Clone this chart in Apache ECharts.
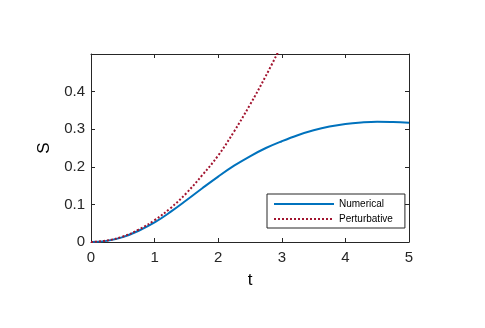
<!DOCTYPE html>
<html>
<head>
<meta charset="utf-8">
<script src="https://cdn.jsdelivr.net/npm/echarts@6/dist/echarts.min.js"></script>
<style>
  html, body { margin: 0; padding: 0; background: #fff; }
  #chart { width: 485px; height: 328px; }
</style>
</head>
<body>
<div id="chart"></div>
<script>
// values
var tNum = [0, 0.25, 0.5, 0.75, 1, 1.25, 1.5, 1.75, 2, 2.25, 2.5, 2.75, 3, 3.25, 3.5, 3.75, 4, 4.25, 4.5, 4.75, 5];
var sNum = [0, 0.003, 0.013, 0.03, 0.052, 0.080, 0.111, 0.143, 0.174, 0.203, 0.228, 0.250, 0.268, 0.284, 0.297, 0.307, 0.314, 0.318, 0.320, 0.319, 0.317];
var tPert = [0, 0.25, 0.5, 0.75, 1, 1.25, 1.5, 1.75, 2, 2.25, 2.5, 2.75, 3];
var sPert = [0, 0.004, 0.0145, 0.033, 0.058, 0.09, 0.13, 0.178, 0.23, 0.294, 0.365, 0.442, 0.525];
var names = ['Numerical', 'Perturbative'];

function pairs(xs, ys) {
  return xs.map(function (x, i) { return [x, ys[i]]; });
}

var axisCol = '#262626';
var font = 'Liberation Sans, Arial, sans-serif';

// plain frame axis (top / right), no labels, ticks pointing in
function frameAxis(extra) {
  return Object.assign({
    type: 'value',
    axisLine: { show: true, onZero: false, lineStyle: { color: axisCol } },
    axisTick: { show: true, inside: true, length: 4, lineStyle: { color: axisCol } },
    axisLabel: { show: false },
    splitLine: { show: false }
  }, extra);
}

var chart = echarts.init(document.getElementById('chart'));
chart.setOption({
  backgroundColor: '#fff',
  animation: false,
  grid: { left: 91, right: 76, top: 54, bottom: 86 },
  legend: {
    orient: 'vertical',
    left: 267,
    top: 194,
    data: names,
    itemWidth: 60,
    itemHeight: 12,
    itemGap: 5,
    padding: [5, 12, 4, 6],
    borderColor: axisCol,
    borderWidth: 1,
    backgroundColor: '#fff',
    itemStyle: { opacity: 0 },
    textStyle: { fontFamily: font, fontSize: 10, color: '#000' }
  },
  xAxis: [{
    type: 'value', min: 0, max: 5, interval: 1,
    name: 't', nameLocation: 'middle', nameGap: 30,
    nameTextStyle: { fontFamily: font, fontSize: 17, color: '#000' },
    axisLine: { onZero: false, lineStyle: { color: axisCol } },
    axisTick: { inside: true, length: 4, lineStyle: { color: axisCol } },
    axisLabel: { fontFamily: font, fontSize: 15, color: '#262626', margin: 8 },
    splitLine: { show: false }
  }, frameAxis({ min: 0, max: 5, interval: 1, position: 'top' })],
  yAxis: [{
    type: 'value', min: 0, max: 0.5, interval: 0.1,
    name: 'S', nameLocation: 'middle', nameGap: 28,
    nameTextStyle: { fontFamily: font, fontSize: 17, color: '#000' },
    axisLine: { show: true, onZero: false, lineStyle: { color: axisCol } },
    axisTick: { show: true, inside: true, length: 4, lineStyle: { color: axisCol } },
    axisLabel: {
      fontFamily: font, fontSize: 15, color: '#262626', margin: 6,
      formatter: function (v) { return v > 0.45 ? '' : String(Math.round(v * 10) / 10); }
    },
    splitLine: { show: false }
  }, frameAxis({ min: 0, max: 0.5, interval: 0.1, position: 'right' })],
  series: [{
    name: names[0],
    type: 'line',
    smooth: 0.4,
    symbol: 'none',
    clip: true,
    data: pairs(tNum, sNum),
    lineStyle: { color: '#0072BD', width: 2 },
    itemStyle: { color: '#0072BD' }
  }, {
    name: names[1],
    type: 'line',
    smooth: 0.4,
    symbol: 'none',
    clip: true,
    data: pairs(tPert, sPert),
    lineStyle: { color: '#A2142F', width: 2, type: [2, 2] },
    itemStyle: { color: '#A2142F' }
  }]
});
</script>
</body>
</html>
